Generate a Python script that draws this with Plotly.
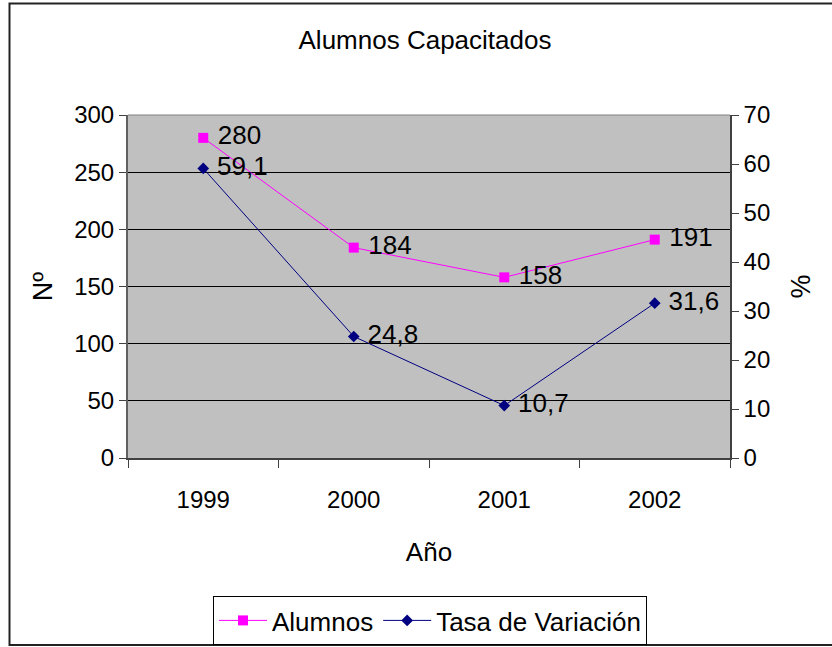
import plotly.graph_objects as go

years = ["1999", "2000", "2001", "2002"]
alumnos = [280, 184, 158, 191]
tasa = [59.1, 24.8, 10.7, 31.6]

left_ticks = [0, 50, 100, 150, 200, 250, 300]
right_ticks = [0, 10, 20, 30, 40, 50, 60, 70]

alumnos_text = [" " + str(v) for v in alumnos]
tasa_text = [" " + f"{v:.1f}".replace(".", ",") for v in tasa]

FONT = "Liberation Sans, Arial, sans-serif"

fig = go.Figure()
fig.add_trace(go.Scatter(
    x=years, y=alumnos, name="Alumnos", mode="lines+markers+text",
    line=dict(color="#FF00FF", width=1),
    marker=dict(symbol="square", size=10, color="#FF00FF"),
    text=alumnos_text, textposition="middle right",
    textfont=dict(size=26, color="black", family=FONT),
    cliponaxis=False,
))
fig.add_trace(go.Scatter(
    x=years, y=tasa, name="Tasa de Variación", mode="lines+markers+text",
    yaxis="y2",
    line=dict(color="#000080", width=1),
    marker=dict(symbol="diamond", size=9, color="#000080"),
    text=tasa_text, textposition="middle right",
    textfont=dict(size=26, color="black", family=FONT),
    cliponaxis=False,
))

L, R, T, B = 128, 730, 115, 458
W, H = 832, 647
pw, ph = R - L, B - T

def px(x):
    return (x - L) / pw

def py(y):
    return (B - y) / ph

fig.update_layout(
    width=W, height=H,
    margin=dict(l=L, r=W - R, t=T, b=H - B, pad=0, autoexpand=False),
    paper_bgcolor="white",
    plot_bgcolor="#C0C0C0",
    font=dict(family=FONT, color="black", size=22),
    title=dict(text="Alumnos Capacitados", xref="container", x=425 / W,
               xanchor="center", yref="container",
               y=1 - 40 / H, yanchor="middle",
               font=dict(size=26, family=FONT, color="black")),
    showlegend=True,
    legend=dict(orientation="h", x=px(430), xanchor="center",
                y=py(596), yanchor="top",
                bordercolor="black", borderwidth=1, bgcolor="white",
                font=dict(size=26, family=FONT, color="black"),
                itemwidth=48, tracegroupgap=0),
    xaxis=dict(
        type="category", tickson="boundaries", automargin=False,
        ticks="outside", ticklen=8, tickcolor="#404040", tickwidth=1,
        showline=True, linecolor="#404040", linewidth=2,
        showgrid=False, zeroline=False,
        tickfont=dict(size=24, family=FONT), ticklabelstandoff=19,
        title=dict(text="Año", font=dict(size=26, family=FONT), standoff=31),
        range=[-0.5, 3.5],
    ),
    yaxis=dict(
        range=[0, 300], tickvals=left_ticks, automargin=False,
        ticks="outside", ticklen=7, tickcolor="#404040",
        showline=True, linecolor="#606060", linewidth=2,
        showgrid=True, gridcolor="black", gridwidth=1, zeroline=False,
        tickfont=dict(size=24, family=FONT),
        title=dict(text="Nº", font=dict(size=27, family=FONT), standoff=14),
    ),
    yaxis2=dict(
        range=[0, 70], tickvals=right_ticks, overlaying="y", side="right",
        automargin=False,
        ticks="outside", ticklen=7, tickcolor="#404040",
        showline=True, linecolor="#404040", linewidth=1.5,
        showgrid=False, zeroline=False,
        tickfont=dict(size=24, family=FONT),
        title=dict(text="%", font=dict(size=27, family=FONT), standoff=22),
    ),
    shapes=[
        dict(type="line", xref="paper", yref="paper", x0=0, x1=1, y0=1, y1=1,
             line=dict(color="#808080", width=1), layer="above"),
        dict(type="rect", xref="paper", yref="paper",
             x0=px(9.5), x1=px(845), y0=py(645), y1=py(3.5),
             line=dict(color="#222222", width=2), layer="above"),
    ],
)

fig.write_html(
    "out.html",
    config={"displayModeBar": False},
    post_script="document.body.style.margin='0';document.body.style.overflow='hidden';",
)
